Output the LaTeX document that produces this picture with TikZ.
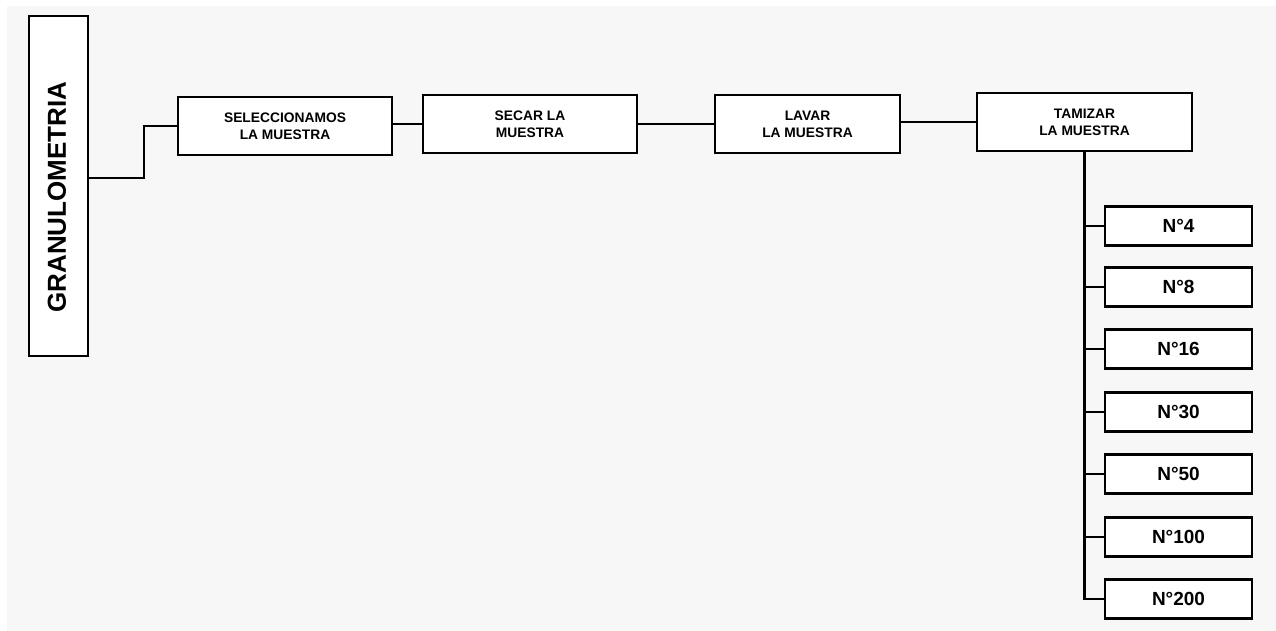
\documentclass[tikz,border=0pt]{standalone}
\usepackage{fontspec}
\setmainfont{Liberation Sans}
\definecolor{bgg}{HTML}{F7F7F7}
\begin{document}
\begin{tikzpicture}[x=1pt,y=-1pt,
  boxstyle/.style={draw=black,line width=2.4pt,fill=white,rectangle,inner sep=0pt,align=center,font=\bfseries},
  stepbox/.style={boxstyle,minimum height=58pt,font=\bfseries\fontsize{13.8}{17}\selectfont},
  sievebox/.style={boxstyle,minimum width=147pt,minimum height=39pt,font=\bfseries\fontsize{19}{22}\selectfont},
  link/.style={draw=black,line width=2.2pt}]
\useasboundingbox (0,0) rectangle (1276,631);
\fill[white] (0,0) rectangle (1276,631);
\fill[bgg] (7,6) rectangle (1276,631);

\node[boxstyle,minimum width=59pt,minimum height=340pt] (gran) at (58.5,186) {};
\node[rotate=90,font=\bfseries\fontsize{26}{28}\selectfont] (granlabel) at (57,197) {GRANULOMETRIA};

\node[stepbox,minimum width=214pt] (sel) at (285,126) {SELECCIONAMOS\\LA MUESTRA};
\node[stepbox,minimum width=214pt] (sec) at (530,124) {SECAR LA\\MUESTRA};
\node[stepbox,minimum width=185pt] (lav) at (807.5,124) {LAVAR\\LA MUESTRA};
\node[stepbox,minimum width=215pt] (tam) at (1084.5,122) {TAMIZAR\\LA MUESTRA};

\node[sievebox] (n4) at (1178.5,226) {N°4};
\node[sievebox] (n8) at (1178.5,287) {N°8};
\node[sievebox] (n16) at (1178.5,349) {N°16};
\node[sievebox] (n30) at (1178.5,412) {N°30};
\node[sievebox] (n50) at (1178.5,474) {N°50};
\node[sievebox] (n100) at (1178.5,537) {N°100};
\node[sievebox] (n200) at (1178.5,599) {N°200};

\draw[link] ([yshift=8pt]gran.east) -- ++(55,0) |- (sel.west);
\draw[link] (sel.east |- sec.west) -- (sec.west);
\draw[link] (sec.east) -- (lav.west);
\draw[link] (lav.east |- tam.west) -- (tam.west);
\draw[link] (tam.south) |- (n200.west);
\foreach \n in {n4,n8,n16,n30,n50,n100}{
  \draw[link] (tam.south |- \n.west) -- (\n.west);
}
\end{tikzpicture}
\end{document}
